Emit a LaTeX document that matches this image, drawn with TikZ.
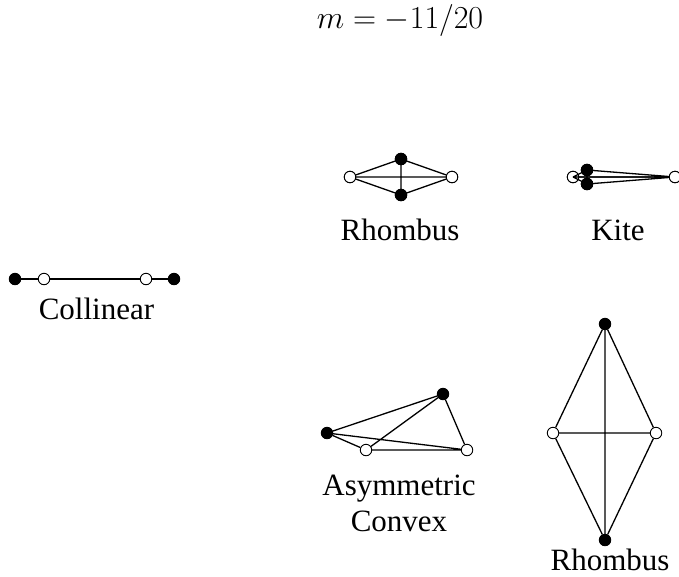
\RequirePackage{fix-cm}
\documentclass[tikz,border=0pt]{standalone}
\usepackage{fontspec}
\setmainfont{Liberation Serif}
\begin{document}
\begin{tikzpicture}[x=1pt,y=-1pt,
  vb/.style={circle,draw,fill=black,line width=0.9pt,inner sep=0pt,minimum size=11.5pt},
  vw/.style={circle,draw,fill=white,line width=0.9pt,inner sep=0pt,minimum size=11.5pt},
  ed/.style={line width=1.3pt},
  lab/.style={anchor=base,inner sep=0pt,font=\fontsize{31}{36}\selectfont}]
\useasboundingbox (0,0) rectangle (679,576);
% title
\node[anchor=base,inner sep=0pt,font=\fontsize{32}{38}\selectfont] (title) at (400,28) {$m=-11/20$};
% Rhombus 1
\node[vw] (r1l) at (350,177) {};
\node[vb] (r1t) at (401,159) {};
\node[vb] (r1b) at (401,195) {};
\node[vw] (r1r) at (452,177) {};
\draw[ed] (r1l) -- (r1t) -- (r1r) -- (r1b) -- (r1l) -- (r1r) (r1t) -- (r1b);
\node[vw] at (r1l) {};
\node[vb] at (r1t) {};
\node[vb] at (r1b) {};
\node[vw] at (r1r) {};
\node[lab] (lr1) at (400,240) {Rhombus};
% Kite
\node[vw] (kl) at (573,177) {};
\node[vb] (kt) at (587,170) {};
\node[vb] (kb) at (587,184) {};
\node[vw] (kr) at (675,177) {};
\draw[ed] (kl) -- (kr) (kt) -- (kr) (kb) -- (kr) (kt) -- (kb);
\node[vw] at (kl) {};
\draw[ed] (kl.center) -- (kt.center) (kl.center) -- (kb.center) (kl.center) -- (kr);
\node[vb] at (kt) {};
\node[vb] at (kb) {};
\node[vw] at (kr) {};
\node[lab] (lk) at (618,240) {Kite};
% Collinear
\node[vb] (c1) at (15,279) {};
\node[vw] (c2) at (44,279) {};
\node[vw] (c3) at (146,279) {};
\node[vb] (c4) at (174,279) {};
\draw[ed] (c1) -- (c2) -- (c3) -- (c4);
\node[lab] (lc) at (96.5,319) {Collinear};
% Asymmetric convex
\node[vb] (a1) at (327,433) {};
\node[vb] (a2) at (443,394) {};
\node[vw] (a3) at (366,450) {};
\node[vw] (a4) at (467,450) {};
\draw[ed] (a1) -- (a2) (a1) -- (a3) (a1) -- (a4) (a2) -- (a3) (a2) -- (a4) (a3) -- (a4);
\node[lab] (la1) at (399,495) {Asymmetric};
\node[lab] (la2) at (399,531) {Convex};
% Rhombus 2
\node[vb] (q1) at (605,324) {};
\node[vw] (q2) at (553,433) {};
\node[vw] (q3) at (656,433) {};
\node[vb] (q4) at (605,540) {};
\draw[ed] (q1) -- (q2) -- (q4) -- (q3) -- (q1) -- (q4) (q2) -- (q3);
\node[lab] (lr2) at (610,570) {Rhombus};
\end{tikzpicture}
\end{document}
